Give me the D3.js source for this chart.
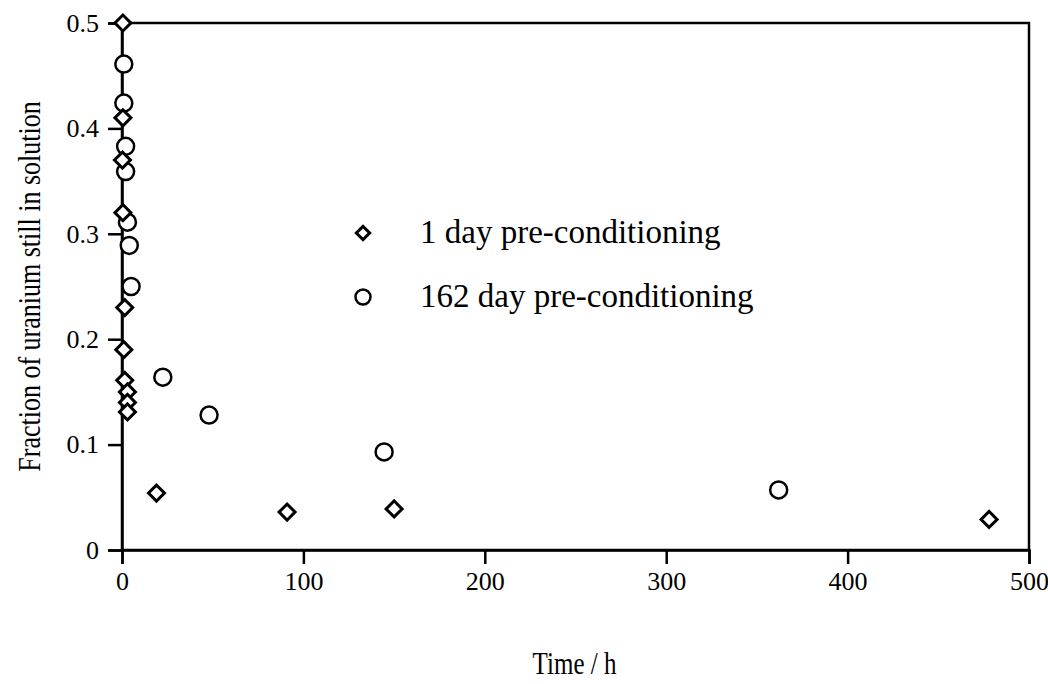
<!DOCTYPE html>
<html>
<head>
<meta charset="utf-8">
<script src="https://cdn.jsdelivr.net/npm/d3@7"></script>
<style>
  body { margin: 0; background: #fff; }
  text { font-family: "Liberation Serif", "Times New Roman", serif; fill: #000; }
</style>
</head>
<body>
<div id="chart"></div>
<script>
// 1 day pre-conditioning (diamonds)
var day1Time  = [0.5, 0.5, 0.25, 0.5, 1.5, 1, 1.5, 3, 3, 3, 19, 91, 150, 478];
var day1Frac  = [0.5, 0.41, 0.37, 0.32, 0.23, 0.19, 0.161, 0.15, 0.14, 0.131, 0.054, 0.036, 0.039, 0.029];
// 162 day pre-conditioning (circles)
var day162Time = [1, 1, 2, 2, 3, 4, 5, 22.5, 48, 144.5, 362];
var day162Frac = [0.461, 0.424, 0.383, 0.359, 0.311, 0.289, 0.25, 0.164, 0.128, 0.093, 0.057];

var xTicks = [0, 100, 200, 300, 400, 500];
var yTicks = [0, 0.1, 0.2, 0.3, 0.4, 0.5];
var legendLabels = ["1 day pre-conditioning", "162 day pre-conditioning"];

var width = 1048, height = 684;
var margin = {left: 122, right: 19, top: 23, bottom: 134};

var svg = d3.select("#chart").append("svg")
  .attr("width", width)
  .attr("height", height);

var x = d3.scaleLinear().domain([0, 500]).range([margin.left, width - margin.right]);
var y = d3.scaleLinear().domain([0, 0.5]).range([height - margin.bottom, margin.top]);

// frame
svg.append("rect")
  .attr("x", x(0)).attr("y", y(0.5))
  .attr("width", x(500) - x(0)).attr("height", y(0) - y(0.5))
  .attr("fill", "none").attr("stroke", "#000").attr("stroke-width", 2.5);

var xAxis = svg.append("g")
  .attr("transform", "translate(0," + y(0) + ")")
  .call(d3.axisBottom(x).tickValues(xTicks).tickFormat(d3.format("d")).tickSize(14).tickPadding(8));
var yAxis = svg.append("g")
  .attr("transform", "translate(" + x(0) + ",0)")
  .call(d3.axisLeft(y).tickValues(yTicks).tickFormat(function(d){ return d === 0 ? "0" : d3.format(".1f")(d); }).tickSize(14).tickPadding(9));

[xAxis, yAxis].forEach(function(g){
  g.attr("font-family", '"Liberation Serif", serif').attr("font-size", 26);
  g.select(".domain").attr("stroke-width", 2.5);
  g.selectAll(".tick line").attr("stroke-width", 2.5);
});

// axis titles (the scan's lettering is a little taller than wide)
svg.append("text")
  .attr("transform", "translate(" + ((x(0) + x(500)) / 2 - 1) + ",674) scale(1,1.25)")
  .attr("text-anchor", "middle")
  .style("font-size", "25px")
  .text("Time / h");

svg.append("text")
  .attr("transform", "translate(40," + ((y(0) + y(0.5)) / 2) + ") scale(1.2,1) rotate(-90)")
  .attr("text-anchor", "middle")
  .style("font-size", "26px")
  .text("Fraction of uranium still in solution");

var diamond = d3.symbol().type(d3.symbolSquare).size(128);

var d1 = day1Time.map(function(t, i){ return {t: t, f: day1Frac[i]}; });
var d162 = day162Time.map(function(t, i){ return {t: t, f: day162Frac[i]}; });

svg.selectAll(".circ").data(d162).enter().append("circle")
  .attr("class", "circ")
  .attr("cx", function(d){ return x(d.t); })
  .attr("cy", function(d){ return y(d.f); })
  .attr("r", 8.5)
  .attr("fill", "#fff")
  .attr("stroke", "#000")
  .attr("stroke-width", 2.5);

svg.selectAll(".diam").data(d1).enter().append("path")
  .attr("class", "diam")
  .attr("d", diamond)
  .attr("transform", function(d){ return "translate(" + x(d.t) + "," + y(d.f) + ") rotate(45)"; })
  .attr("fill", "#fff")
  .attr("stroke", "#000")
  .attr("stroke-width", 3);

// legend
var legend = svg.append("g");
legend.append("path")
  .attr("d", d3.symbol().type(d3.symbolSquare).size(90))
  .attr("transform", "translate(363,233) rotate(45)")
  .attr("fill", "#fff").attr("stroke", "#000").attr("stroke-width", 3);
legend.append("circle")
  .attr("cx", 363).attr("cy", 297).attr("r", 7.5)
  .attr("fill", "#fff").attr("stroke", "#000").attr("stroke-width", 2.5);
legend.selectAll("text").data(legendLabels).enter().append("text")
  .attr("x", 420)
  .attr("y", function(d, i){ return 243 + i * 64; })
  .style("font-size", "33px")
  .text(function(d){ return d; });
</script>
</body>
</html>
